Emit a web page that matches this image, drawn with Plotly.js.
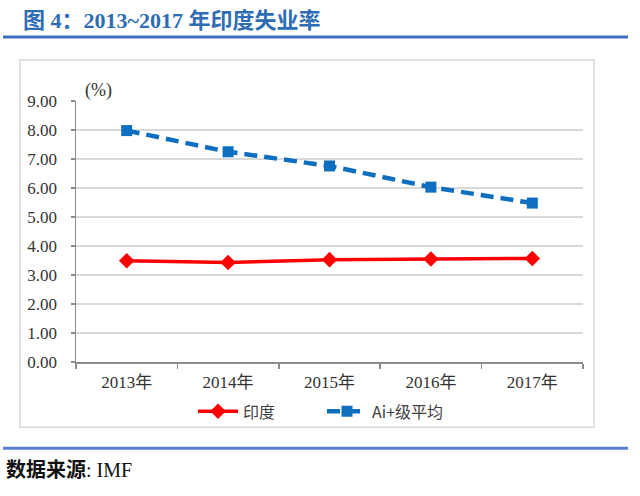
<!DOCTYPE html>
<html>
<head>
<meta charset="utf-8">
<script src="https://cdn.plot.ly/plotly-3.0.1.min.js"></script>
<style>
html,body{margin:0;padding:0;background:#fff;}
#chart{width:640px;height:496px;}
</style>
</head>
<body>
<div id="chart"></div>
<script>
const categories = ["2013年", "2014年", "2015年", "2016年", "2017年"];
const indiaRate = [3.49, 3.43, 3.53, 3.55, 3.57];
const aiPlusAvg = [7.98, 7.25, 6.76, 6.03, 5.48];
const yTicks = [0, 1, 2, 3, 4, 5, 6, 7, 8, 9];
const yTickText = yTicks.map(v => v.toFixed(2));

// plot-area pixel geometry for converting page positions to paper coords
const L = 76, R = 583, T = 101, B = 362.5;
const px = x => (x - L) / (R - L);
const py = y => (B - y) / (B - T);

const serif = "Liberation Serif, Noto Sans CJK SC, serif";
const cjk = "Noto Sans CJK SC, sans-serif";

const traces = [
  {
    x: categories, y: indiaRate, name: "印度", type: "scatter", mode: "lines+markers",
    line: {color: "#ff0000", width: 3.5},
    marker: {symbol: "diamond", size: 12, color: "#ff0000"}
  },
  {
    x: categories, y: aiPlusAvg, name: "Ai+级平均", type: "scatter", mode: "lines+markers",
    line: {color: "#0e6fc1", width: 4.5, dash: "13px,7px"},
    marker: {symbol: "square", size: 11, color: "#0e6fc1"}
  }
];

const layout = {
  width: 640, height: 496,
  margin: {l: L, r: 640 - R, t: T, b: 496 - B},
  paper_bgcolor: "#ffffff", plot_bgcolor: "#ffffff",
  showlegend: true,
  legend: {
    orientation: "h", x: px(322), xanchor: "center", y: py(412), yanchor: "middle",
    bgcolor: "rgba(0,0,0,0)", entrywidth: 74,
    font: {family: cjk, size: 16, color: "#404040"}, itemwidth: 40, tracegroupgap: 0
  },
  xaxis: {
    type: "category", range: [-0.5, 4.5], showline: true, linecolor: "#8c8c8c", linewidth: 1.5,
    ticks: "outside", tickson: "boundaries", ticklen: 5, tickcolor: "#8c8c8c", tickwidth: 1.5,
    showgrid: false, tickfont: {family: serif, size: 17, color: "#333333"},
    ticklabelstandoff: 4,
    fixedrange: true
  },
  yaxis: {
    range: [0, 9], tickvals: yTicks, ticktext: yTickText,
    showline: true, linecolor: "#8c8c8c", linewidth: 1.5,
    ticks: "outside", ticklen: 4, tickcolor: "#8c8c8c", tickwidth: 1.5,
    showgrid: true, gridcolor: "#d9d9d9", gridwidth: 1.5, zeroline: false,
    tickfont: {family: serif, size: 17, color: "#333333"},
    ticklabelstandoff: 10,
    fixedrange: true
  },
  shapes: [
    {type: "rect", xref: "paper", yref: "paper", x0: px(20), x1: px(594), y0: py(428), y1: py(60),
     line: {color: "#d9d9d9", width: 1.5}, layer: "below"},
    {type: "line", xref: "paper", yref: "paper", x0: px(3), x1: px(628), y0: py(37), y1: py(37),
     line: {color: "#3f6fc0", width: 3}},
    {type: "line", xref: "paper", yref: "paper", x0: px(3), x1: px(628), y0: py(449), y1: py(449),
     line: {color: "#5b7fd3", width: 3}}
  ],
  annotations: [
    {text: "<b>图 4：2013~2017 年印度失业率</b>", xref: "paper", yref: "paper",
     x: px(21), y: py(20), xanchor: "left", yanchor: "middle", showarrow: false,
     font: {family: serif, size: 22, color: "#2e6db4"}},
    {text: "(%)", xref: "paper", yref: "paper", x: px(98), y: py(90),
     xanchor: "center", yanchor: "middle", showarrow: false,
     font: {family: serif, size: 18, color: "#333333"}},
    {text: "<b>数据来源</b>: IMF", xref: "paper", yref: "paper",
     x: px(4), y: py(471), xanchor: "left", yanchor: "middle", showarrow: false,
     font: {family: serif, size: 20, color: "#111111"}}
  ]
};

Plotly.newPlot("chart", traces, layout, {displayModeBar: false, staticPlot: true});
</script>
</body>
</html>
